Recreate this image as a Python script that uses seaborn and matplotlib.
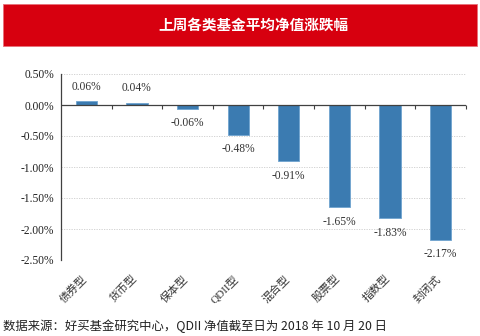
import matplotlib
matplotlib.use("Agg")
import matplotlib.pyplot as plt
import matplotlib.transforms as mtransforms
import seaborn as sns
import pandas as pd
from matplotlib.patches import Rectangle
from matplotlib.ticker import FuncFormatter

categories = ["债券型", "货币型", "保本型", "QDII型", "混合型", "股票型", "指数型", "封闭式"]
values = [0.06, 0.04, -0.06, -0.48, -0.91, -1.65, -1.83, -2.17]
yticks = [0.5, 0.0, -0.5, -1.0, -1.5, -2.0, -2.5]
title = "上周各类基金平均净值涨跌幅"
footer = "数据来源：好买基金研究中心，QDII 净值截至日为 2018 年 10 月 20 日"

sns.set_theme(style="white")
plt.rcParams['font.family'] = ['Liberation Serif', 'Noto Sans CJK SC', 'DejaVu Sans']

df = pd.DataFrame({"cat": categories, "val": values})

fig = plt.figure(figsize=(4.81, 3.36), dpi=100)
ax = fig.add_axes([61/481, 1-260/336, 405/481, (260-74)/336])

sns.barplot(data=df, x="cat", y="val", color="#3b7bb1", width=0.42,
            edgecolor="#6fa3cf", linewidth=0.6, ax=ax, saturation=1)

ax.set_xlim(-0.5, len(categories) - 0.5)
ax.set_ylim(-2.5, 0.5)
ax.set_yticks(yticks)
ax.yaxis.set_major_formatter(FuncFormatter(lambda v, p: f"{v:.2f}%"))
ax.tick_params(axis="y", length=0, labelsize=8.3, colors="#222222", pad=5)
for lab in ax.get_yticklabels():
    lab.set_fontfamily(['Liberation Serif'])
ax.set_xlabel("")
ax.set_ylabel("")

ax.set_xticks(range(len(categories)))
ax.set_xticklabels(categories, rotation=45, ha="right", rotation_mode="anchor",
                   fontsize=8, color="#333333", family=['Liberation Serif', 'Noto Sans CJK SC'])
ax.tick_params(axis="x", length=0, pad=6)
off = mtransforms.ScaledTranslation(-5/100, -5/100, fig.dpi_scale_trans)
for lab in ax.get_xticklabels():
    lab.set_transform(lab.get_transform() + off)

for y in yticks:
    if y != 0:
        ax.axhline(y, color="#cccccc", linestyle=(0, (1.5, 1.5)), linewidth=0.6, zorder=0)
ax.axhline(0, color="#404040", linewidth=0.9, zorder=3)

for s in ["top", "right", "bottom"]:
    ax.spines[s].set_visible(False)
ax.spines["left"].set_color("#404040")
ax.spines["left"].set_linewidth(0.9)

# boundary tick marks on the zero line
zpos = (0 - (-2.5)) / 3.0
sec = ax.secondary_xaxis(zpos)
sec.set_xticks([i + 0.5 for i in range(len(categories))])
sec.set_xticklabels([])
sec.tick_params(axis="x", direction="in", length=3, width=0.8, color="#404040")
sec.spines["bottom"].set_visible(False)
sec.spines["top"].set_visible(False)

for i, v in enumerate(values):
    if v >= 0:
        ax.annotate(f"{v:.2f}%", (i, v), xytext=(0, 6), textcoords="offset points",
                    ha="center", va="bottom", fontsize=8.3, color="#333333",
                    family=['Liberation Serif'])
    else:
        ax.annotate(f"{v:.2f}%", (i, v), xytext=(0, -6), textcoords="offset points",
                    ha="center", va="top", fontsize=8.3, color="#333333",
                    family=['Liberation Serif'])

fig.patches.append(Rectangle((3/481, 1-46/336), 474/481, 42/336, transform=fig.transFigure,
                             facecolor="#d7000f", edgecolor="#e8707a", linewidth=0.6, zorder=0))
fig.text(253/481, 1-25/336, title, ha="center", va="center", color="white",
         fontsize=10.5, fontweight="bold", family=['Noto Sans CJK SC'])
fig.text(3/481, 1-326/336, footer, ha="left", va="center", color="#222222",
         fontsize=8.9, family=['Noto Sans CJK SC', 'DejaVu Sans'])

fig.savefig("out.png", dpi=100)
